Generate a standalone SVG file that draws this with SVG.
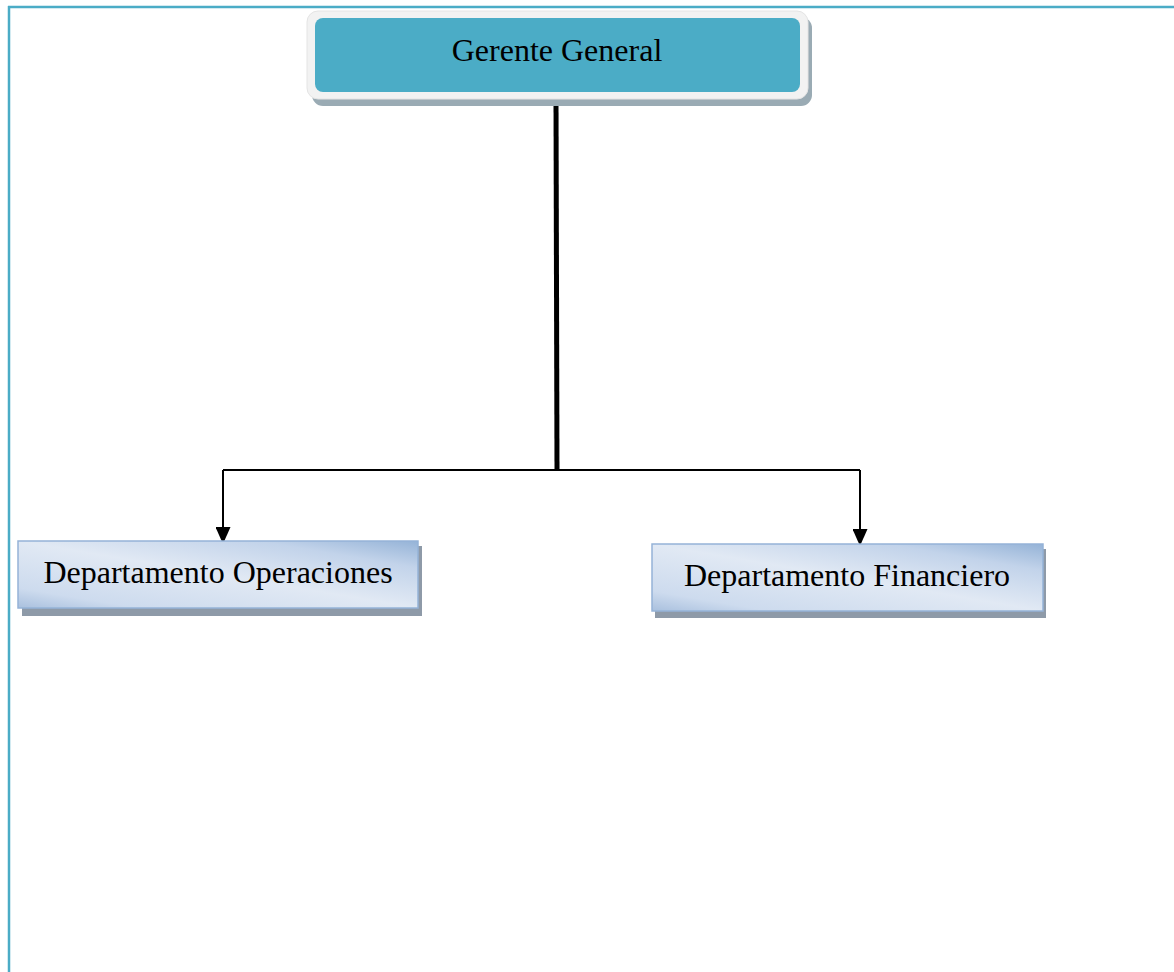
<svg xmlns="http://www.w3.org/2000/svg" width="1174" height="972" viewBox="0 0 1174 972">
<style>
.lbl{font-family:"Liberation Serif","Times New Roman",serif;font-size:32px;fill:#000;text-anchor:middle}
.dept{fill:url(#deptGrad);stroke:#95b3d7;stroke-width:1.5}
.shadow{fill:#8e9aa8}
.conn{fill:none;stroke:#000}
</style>
<defs>
<linearGradient id="deptGrad" x1="0" y1="1" x2="1" y2="0">
<stop offset="0" stop-color="#a9c0de"/>
<stop offset="0.15" stop-color="#cddbee"/>
<stop offset="0.5" stop-color="#e1e9f4"/>
<stop offset="0.8" stop-color="#c2d3ea"/>
<stop offset="1" stop-color="#95b3d7"/>
</linearGradient>
<marker id="arrow" viewBox="0 0 17 15" refX="17" refY="7.5" markerWidth="17" markerHeight="15" markerUnits="userSpaceOnUse" orient="auto">
<path d="M0,0 L17,7.5 L0,15 Z" fill="#000"/>
</marker>
</defs>
<rect width="1174" height="972" fill="#fff"/>
<g id="frame">
<line x1="8" y1="7" x2="1174" y2="7" stroke="#4bacc6" stroke-width="2.5"/>
<line x1="9" y1="6" x2="9" y2="972" stroke="#4bacc6" stroke-width="2.5"/>
</g>
<g id="connectors">
<line class="conn" x1="556" y1="100" x2="557" y2="470" stroke-width="5"/>
<polyline class="conn" points="223,470 860,470" stroke-width="2"/>
<line class="conn" x1="223" y1="470" x2="223" y2="544" stroke-width="2" marker-end="url(#arrow)"/>
<line class="conn" x1="860" y1="470" x2="860" y2="546" stroke-width="2" marker-end="url(#arrow)"/>
</g>
<g id="node-gerente">
<rect x="312" y="17" width="500" height="89" rx="11" fill="#9aabb4"/>
<rect x="307" y="11" width="501" height="88" rx="11" fill="#f2f2f2" stroke="#e4e4e4" stroke-width="1"/>
<rect x="315" y="18" width="485" height="74" rx="8" fill="#4bacc6"/>
<text class="lbl" x="557" y="61">Gerente General</text>
</g>
<g id="node-operaciones">
<rect class="shadow" x="22" y="546" width="400" height="70"/>
<rect class="dept" x="18" y="541" width="400" height="67"/>
<text class="lbl" x="218" y="583">Departamento Operaciones</text>
</g>
<g id="node-financiero">
<rect class="shadow" x="655" y="549" width="391" height="69"/>
<rect class="dept" x="652" y="544" width="391" height="67"/>
<text class="lbl" x="847" y="586">Departamento Financiero</text>
</g>
</svg>
